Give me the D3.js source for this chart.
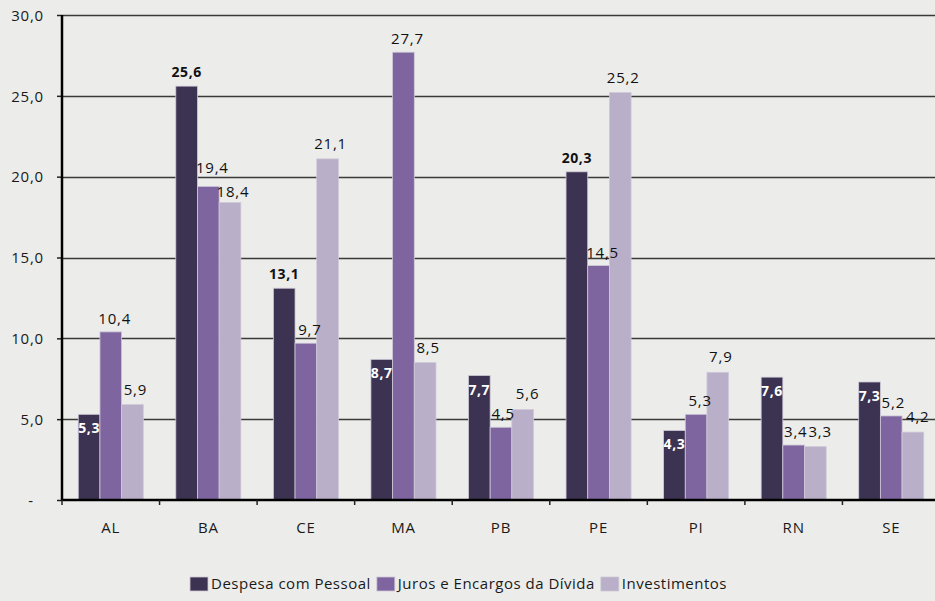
<!DOCTYPE html>
<html>
<head>
<meta charset="utf-8">
<script src="https://cdn.jsdelivr.net/npm/d3@7/dist/d3.min.js"></script>
<style>
  html, body { margin: 0; padding: 0; background: #ecedeb; }
  svg { display: block; }
  text { font-family: "Open Sans", "Noto Sans", sans-serif; }
</style>
</head>
<body>
<svg id="chart" width="935" height="601"></svg>
<script>
const categories = ["AL", "BA", "CE", "MA", "PB", "PE", "PI", "RN", "SE"];
const seriesNames = ["Despesa com Pessoal", "Juros e Encargos da Dívida", "Investimentos"];
const despesaPessoal = [5.3, 25.6, 13.1, 8.7, 7.7, 20.3, 4.3, 7.6, 7.3];
const jurosEncargos = [10.4, 19.4, 9.7, 27.7, 4.5, 14.5, 5.3, 3.4, 5.2];
const investimentos = [5.9, 18.4, 21.1, 8.5, 5.6, 25.2, 7.9, 3.3, 4.2];
const yTicks = [0, 5, 10, 15, 20, 25, 30];

(function () {
const seriesValues = [despesaPessoal, jurosEncargos, investimentos];
const colors = ["#3c3251", "#7f65a0", "#b9afc9"];

const W = 935, H = 601;
const mLeft = 62, mRight = 940, mTop = 15, mBottom = 500;
const svg = d3.select("#chart");
svg.append("rect").attr("width", W).attr("height", H).attr("fill", "#ecedeb");

const fmt = v => d3.format(".1f")(v).replace(".", ",");

const y = d3.scaleLinear().domain([0, 30]).range([mBottom, mTop]);
const x0 = d3.scaleBand().domain(categories).range([mLeft, mRight]).padding(0);
const x1 = d3.scaleBand().domain(d3.range(3)).range([0, x0.bandwidth()]).paddingInner(0).paddingOuter(0.75);

// gridlines
svg.append("g").selectAll("line").data(yTicks.filter(t => t > 0)).join("line")
  .attr("x1", mLeft).attr("x2", W)
  .attr("y1", d => Math.round(y(d)) + 0.5).attr("y2", d => Math.round(y(d)) + 0.5)
  .attr("stroke", "#3a3a3a").attr("stroke-width", 1.3);

// y axis
const yAxis = d3.axisLeft(y).tickValues(yTicks).tickSize(5).tickPadding(13)
  .tickFormat(d => d === 0 ? "-" : fmt(d));
const gy = svg.append("g").attr("transform", `translate(${mLeft},0)`).call(yAxis);
gy.select(".domain").remove();
gy.selectAll(".tick line").attr("stroke", "#222").attr("stroke-width", 1.5);
gy.selectAll(".tick text").attr("fill", "#1a1a1a").attr("font-size", 15)
  .attr("letter-spacing", 0.8).attr("dy", "0.35em")
  .attr("dx", d => d === 0 ? -10 : 0);

// bars
const groups = svg.append("g").selectAll("g").data(categories).join("g")
  .attr("transform", d => `translate(${x0(d)},0)`);

groups.each(function(cat, ci) {
  const g = d3.select(this);
  seriesValues.forEach((vals, si) => {
    const v = vals[ci];
    g.append("rect")
      .attr("x", x1(si)).attr("width", x1.bandwidth())
      .attr("y", y(v)).attr("height", y(0) - y(v))
      .attr("fill", colors[si])
      .attr("stroke", "#cfc9d8").attr("stroke-width", 0.8);
  });
});

// labels
groups.each(function(cat, ci) {
  const g = d3.select(this);
  const outside = [];
  seriesValues.forEach((vals, si) => {
    const v = vals[ci];
    const cx = x1(si) + x1.bandwidth() / 2;
    const t = g.append("text").text(fmt(v)).attr("text-anchor", "middle");
    if (si === 0) {
      t.attr("font-weight", "bold").attr("font-size", 14).attr("letter-spacing", 0.6);
      if (v < 10) {
        t.attr("x", cx).attr("y", y(v) + 19).attr("fill", "#ffffff");
      } else {
        t.attr("x", cx).attr("y", y(v) - 9).attr("fill", "#111");
      }
    } else {
      t.attr("font-size", 15).attr("letter-spacing", 0.8).attr("fill", "#111")
        .attr("x", cx + (si === 1 ? 4 : 3))
        .attr("y", y(v) - (si === 1 ? 8 : 10));
      outside.push(t);
    }
  });
  // simple collision handling between the two lighter-series labels
  const [a, b] = outside;
  const ba = a.node().getBBox(), bb = b.node().getBBox();
  const hOverlap = Math.min(ba.x + ba.width, bb.x + bb.width) - Math.max(ba.x, bb.x);
  const vOverlap = Math.min(ba.y + ba.height, bb.y + bb.height) - Math.max(ba.y, bb.y);
  if (hOverlap > 0 && vOverlap > 0) {
    if (hOverlap < 6) {
      const s = hOverlap / 2 + 0.5;
      a.attr("x", +a.attr("x") - s);
      b.attr("x", +b.attr("x") + s);
    } else {
      const ya = +a.attr("y"), yb = +b.attr("y");
      const mid = (ya + yb) / 2;
      if (ya <= yb) { a.attr("y", mid - 12); b.attr("y", mid + 12); }
      else { a.attr("y", mid + 12); b.attr("y", mid - 12); }
    }
  }
});

// x axis
svg.append("line").attr("x1", mLeft).attr("x2", W).attr("y1", mBottom).attr("y2", mBottom)
  .attr("stroke", "#000").attr("stroke-width", 2.5);
svg.append("line").attr("x1", mLeft).attr("x2", mLeft).attr("y1", mTop).attr("y2", mBottom + 1)
  .attr("stroke", "#000").attr("stroke-width", 2.5);
svg.append("g").selectAll("line").data(categories).join("line")
  .attr("x1", d => x0(d)).attr("x2", d => x0(d))
  .attr("y1", mBottom).attr("y2", mBottom + 5)
  .attr("stroke", "#222").attr("stroke-width", 1.5);
svg.append("g").selectAll("text").data(categories).join("text")
  .attr("x", d => x0(d) + x0.bandwidth() / 2).attr("y", 533)
  .attr("text-anchor", "middle").attr("font-size", 15).attr("letter-spacing", 0.8)
  .attr("fill", "#1a1a1a").text(d => d);

// legend
const legend = svg.append("g");
let lx = 190;
seriesNames.forEach((name, i) => {
  legend.append("rect").attr("x", lx).attr("y", 577).attr("width", 18).attr("height", 14)
    .attr("fill", colors[i]).attr("stroke", "#cfc9d8").attr("stroke-width", 0.8);
  const t = legend.append("text").attr("x", lx + 21).attr("y", 589)
    .attr("font-size", 15).attr("letter-spacing", 0.5).attr("fill", "#1a1a1a").text(name);
  lx = lx + 21 + t.node().getComputedTextLength() + 6;
});
})();
</script>
</body>
</html>
